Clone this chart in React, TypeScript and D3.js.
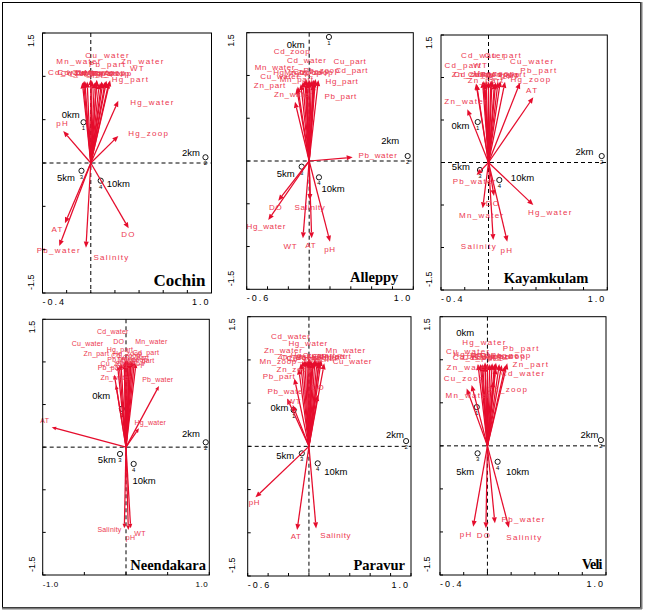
import React from "react";
import * as d3 from "d3";

// variables shown as arrows (same order in every panel)
const variables = [
  "Cd_water", "Cd_part", "Cd_zoop", "Cu_water", "Cu_part", "Cu_zoop",
  "Hg_water", "Hg_part", "Hg_zoop", "Mn_water", "Mn_part", "Mn_zoop",
  "Pb_water", "Pb_part", "Pb_zoop", "Zn_water", "Zn_part", "Zn_zoop",
  "WT", "pH", "DO", "Salinity", "AT",
];
const siteIds = ["1", "2", "3", "4"];
const siteNames = ["0km", "2km", "5km", "10km"];
const panelNames = ["Cochin", "Alleppy", "Kayamkulam", "Neendakara", "Paravur", "Veli"];
const xTickLabels = [["-0.4", "1.0"], ["-0.6", "1.0"], ["-0.4", "1.0"], ["-1.0", "1.0"], ["-0.6", "1.0"], ["-0.4", "1.0"]];
const yTickLabels = ["1.5", "-1.5"];
const xDomains = [[-0.4, 1.0], [-0.6, 1.0], [-0.4, 1.0], [-1.0, 1.0], [-0.6, 1.0], [-0.4, 1.0]];
const xSteps = [0.2, 0.2, 0.2, 0.5, 0.2, 0.2];

// Cochin
const cochinX = [-0.07, -0.05, -0.03, 0.0, 0.01, 0.03, 0.228, 0.16, 0.228, -0.06, 0.05, 0.07, -0.261, 0.05, 0.09, 0.12, 0.1, 0.13, 0.15, -0.228, 0.314, -0.04, -0.214];
const cochinY = [0.93, 0.95, 0.94, 0.97, 0.95, 0.93, 0.719, 0.955, 0.312, 0.94, 0.95, 0.92, -0.958, 0.96, 0.94, 0.94, 0.93, 0.95, 0.93, 0.369, -0.754, -0.977, -0.696];
const cochinLX = [-0.17, -0.12, -0.08, 0.14, 0.0, 0.04, 0.511, 0.329, 0.48, -0.098, 0.08, 0.12, -0.265, 0.138, 0.16, 0.431, 0.02, 0.18, 0.387, -0.233, 0.312, 0.172, -0.274];
const cochinLY = [1.04, 1.05, 1.03, 1.243, 1.04, 1.05, 0.696, 0.969, 0.335, 1.169, 1.03, 1.04, -1.012, 1.142, 1.035, 1.169, 1.03, 1.03, 1.093, 0.453, -0.823, -1.093, -0.762];
const cochinSiteX = [-0.06, 0.95, -0.077, 0.082];
const cochinSiteY = [0.47, 0.066, -0.09, -0.204];
const cochinSiteLX = [-0.167, 0.83, -0.205, 0.229];
const cochinSiteLY = [0.554, 0.123, -0.17, -0.242];

// Alleppy
const alleppyX = [0.0, 0.05, -0.03, -0.11, 0.06, -0.06, -0.393, 0.088, -0.04, -0.08, -0.02, 0.02, 0.418, 0.04, 0.04, -0.136, -0.12, 0.0, -0.06, 0.2, -0.297, 0.008, 0.024];
const alleppyY = [0.95, 0.93, 0.96, 0.87, 0.96, 0.93, -0.69, 0.947, 0.95, 0.9, 0.92, 0.94, 0.043, 0.9, 0.95, 0.693, 0.85, 0.93, -0.904, -0.943, -0.464, -0.456, -0.904];
const alleppyLX = [-0.023, 0.408, -0.165, -0.28, 0.392, 0.02, -0.412, 0.315, -0.17, -0.329, -0.12, -0.06, 0.661, 0.303, 0.12, -0.153, -0.377, 0.06, -0.18, 0.2, -0.321, 0.008, 0.016];
const alleppyLY = [1.173, 1.056, 1.278, 0.986, 1.161, 1.05, -0.768, 0.927, 1.03, 1.096, 0.947, 1.04, 0.07, 0.752, 1.06, 0.783, 0.877, 1.03, -1.002, -1.04, -0.546, -0.546, -0.99];
const alleppySiteX = [0.19, 0.946, -0.072, 0.094];
const alleppySiteY = [1.45, 0.058, -0.066, -0.191];
const alleppySiteLX = [-0.129, 0.779, -0.225, 0.229];
const alleppySiteLY = [1.364, 0.237, -0.144, -0.327];

// Kayamkulam
const kayX = [-0.02, -0.05, -0.03, 0.1, 0.03, 0.0, 0.377, 0.06, 0.265, -0.049, 0.08, 0.02, -0.1, 0.139, 0.05, -0.178, -0.105, -0.1, -0.04, 0.158, 0.046, 0.04, 0.377];
const kayY = [0.96, 0.95, 0.93, 0.96, 0.97, 0.95, -0.5, 0.94, 0.939, -0.539, 0.95, 0.96, -0.147, 0.95, 0.93, 0.626, 0.93, 0.92, 0.96, -0.931, -0.394, -0.912, 0.767];
const kayLX = [-0.044, -0.212, -0.12, 0.368, 0.125, 0.0, 0.52, 0.1, 0.358, -0.057, 0.16, 0.05, -0.116, 0.424, 0.1, -0.188, -0.021, -0.14, -0.066, 0.154, 0.038, -0.081, 0.368];
const kayLY = [1.257, 1.147, 1.04, 1.186, 1.26, 1.04, -0.586, 1.02, 0.971, -0.618, 1.03, 1.045, -0.226, 1.08, 1.04, 0.715, 0.959, 1.03, 1.147, -1.03, -0.48, -0.99, 0.845];
const kaySiteX = [-0.091, 0.953, -0.072, 0.091];
const kaySiteY = [0.476, 0.076, -0.088, -0.206];
const kaySiteLX = [-0.236, 0.808, -0.233, 0.286];
const kaySiteLY = [0.441, 0.127, -0.049, -0.174];

// Neendakara
const neeX = [-0.02, 0.1, 0.02, -0.1, 0.08, -0.08, 0.156, 0.0, 0.04, 0.06, 0.12, 0.04, 0.396, -0.14, 0.06, -0.12, -0.06, -0.02, 0.056, 0.028, 0.0, -0.02, -0.892];
const neeY = [1.0, 1.0, 1.02, 0.95, 1.0, 0.96, 0.222, 1.02, 1.0, 1.02, 0.98, 0.98, 0.718, 0.85, 0.99, 0.73, 0.98, 0.97, -0.952, -0.972, 1.03, -0.952, 0.233];
const neeLX = [-0.158, 0.24, 0.0, -0.462, 0.12, -0.13, 0.292, -0.072, 0.02, 0.304, 0.18, 0.08, 0.382, -0.184, -0.05, -0.122, -0.356, 0.05, 0.168, 0.054, -0.088, -0.198, -0.976];
const neeLY = [1.355, 1.109, 1.07, 1.219, 1.05, 0.976, 0.292, 1.149, 1.1, 1.238, 1.015, 1.03, 0.797, 0.937, 1.03, 0.82, 1.1, 0.98, -1.01, -1.061, 1.238, -0.963, 0.307];
const neeSiteX = [-0.05, 0.957, -0.072, 0.092];
const neeSiteY = [0.45, 0.057, -0.08, -0.197];
const neeSiteLX = [-0.298, 0.78, -0.23, 0.218];
const neeSiteLY = [0.601, 0.155, -0.15, -0.397];

// Paravur
const parX = [-0.04, 0.1, -0.02, 0.15, 0.06, 0.0, 0.0, 0.08, 0.02, 0.12, 0.1, -0.08, -0.214, -0.142, 0.04, -0.06, 0.03, -0.1, -0.159, -0.524, 0.086, 0.07, -0.116];
const parY = [1.0, 1.0, 0.99, 0.96, 1.01, 0.98, 1.02, 0.99, 1.0, 1.0, 0.97, 0.96, 0.555, 0.786, 0.98, 0.99, 0.97, 0.9, 0.478, -0.59, 0.594, -0.949, -0.968];
const parLX = [-0.178, 0.2, -0.1, 0.426, 0.1, -0.04, -0.008, 0.15, 0.0, 0.359, 0.25, -0.302, -0.215, -0.292, 0.05, -0.252, -0.15, -0.142, -0.142, -0.534, 0.085, 0.263, -0.125];
const parLY = [1.276, 1.04, 1.03, 0.979, 1.05, 1.02, 1.192, 1.03, 1.05, 1.106, 1.04, 0.979, 0.632, 0.813, 1.03, 1.106, 1.04, 0.891, 0.516, -0.652, 0.683, -1.034, -1.046];
const parSiteX = [-0.15, 0.952, -0.07, 0.086];
const parSiteY = [0.42, 0.061, -0.081, -0.197];
const parSiteLX = [-0.289, 0.842, -0.232, 0.263];
const parSiteLY = [0.451, 0.139, -0.109, -0.286];

// Veli
const veliX = [0.07, 0.0, -0.04, -0.08, 0.04, -0.133, -0.02, -0.06, 0.02, -0.175, 0.06, 0.1, 0.063, 0.072, 0.12, -0.049, 0.167, 0.05, -0.02, -0.12, -0.013, 0.181, 0.15];
const veliY = [0.9, 0.96, 0.95, 0.95, 0.96, 0.706, 0.97, 0.95, 0.95, 0.667, 0.95, 0.95, -0.9, 0.965, 0.94, 0.938, 0.958, 0.75, 0.93, -0.94, -0.958, -0.951, 0.93];
const veliLX = [0.302, -0.05, -0.12, -0.162, 0.05, -0.196, -0.025, -0.13, 0.0, -0.162, 0.1, 0.15, 0.306, 0.285, 0.2, -0.16, 0.367, 0.175, -0.08, -0.179, -0.028, 0.312, 0.08];
const veliLY = [0.842, 1.03, 1.03, 1.093, 1.04, 0.784, 1.197, 1.06, 1.05, 0.59, 1.04, 1.04, -0.854, 1.132, 1.045, 0.907, 0.947, 0.66, 1.045, -1.024, -1.044, -1.067, 1.03];
const veliSiteX = [-0.09, 0.957, -0.083, 0.086];
const veliSiteY = [0.45, 0.067, -0.087, -0.185];
const veliSiteLX = [-0.188, 0.86, -0.188, 0.255];
const veliSiteLY = [1.314, 0.137, -0.293, -0.293];

const panelData = [
  { x: cochinX, y: cochinY, lx: cochinLX, ly: cochinLY, sx: cochinSiteX, sy: cochinSiteY, slx: cochinSiteLX, sly: cochinSiteLY },
  { x: alleppyX, y: alleppyY, lx: alleppyLX, ly: alleppyLY, sx: alleppySiteX, sy: alleppySiteY, slx: alleppySiteLX, sly: alleppySiteLY },
  { x: kayX, y: kayY, lx: kayLX, ly: kayLY, sx: kaySiteX, sy: kaySiteY, slx: kaySiteLX, sly: kaySiteLY },
  { x: neeX, y: neeY, lx: neeLX, ly: neeLY, sx: neeSiteX, sy: neeSiteY, slx: neeSiteLX, sly: neeSiteLY },
  { x: parX, y: parY, lx: parLX, ly: parLY, sx: parSiteX, sy: parSiteY, slx: parSiteLX, sly: parSiteLY },
  { x: veliX, y: veliY, lx: veliLX, ly: veliLY, sx: veliSiteX, sy: veliSiteY, slx: veliSiteLX, sly: veliSiteLY },
];

// layout of each panel box (pixels) and per-panel text styling
const layout = [
  { left: 42.5, right: 211.5, top: 33, bottom: 293, fs: 8, ls: 1.3, head: 6, tfs: 17, tls: 0, tdx: 6, tdy: 7, yOff: 8.5, tickFs: 9, tickLs: 2 },
  { left: 246.7, right: 413.3, top: 32.7, bottom: 289.3, fs: 8, ls: 0.65, head: 6, tfs: 14.5, tls: 0, tdx: 15, tdy: 7.5, yOff: 13, tickFs: 9, tickLs: 2 },
  { left: 441, right: 607.3, top: 35, bottom: 290, fs: 8, ls: 1.3, head: 6, tfs: 14.5, tls: 0, tdx: 19, tdy: 6.7, yOff: 9.5, tickFs: 9, tickLs: 2 },
  { left: 42.7, right: 209.3, top: 319.3, bottom: 575, fs: 7, ls: 0.2, head: 4.5, tfs: 14.5, tls: 0, tdx: 3.3, tdy: 5, yOff: 8, tickFs: 8, tickLs: 0.6 },
  { left: 247.7, right: 411, top: 316.7, bottom: 576, fs: 8, ls: 0.65, head: 6, tfs: 14.5, tls: 0, tdx: 6, tdy: 6, yOff: 12.7, tickFs: 9, tickLs: 2 },
  { left: 440, right: 606, top: 316.7, bottom: 575, fs: 8, ls: 1.3, head: 6, tfs: 14, tls: -0.8, tdx: 4.3, tdy: 5.7, yOff: 10, tickFs: 9, tickLs: 2 },
];

const ARROW = "#e50c2c";
const LABEL = "#ec3850";
const SANS = "'Liberation Sans', Arial, sans-serif";
const SERIF = "'Liberation Serif', 'Times New Roman', serif";

function Panel({ idx }: { idx: number }) {
  const p = layout[idx];
  const d = panelData[idx];
  const dom = xDomains[idx];
  const x = d3.scaleLinear().domain(dom).range([p.left, p.right]);
  const y = d3.scaleLinear().domain([-1.5, 1.5]).range([p.bottom, p.top]);
  const x0 = x(0);
  const y0 = y(0);
  const xTicks = d3.range(dom[0], dom[1] + 1e-6, xSteps[idx]);
  const yTicks = d3.range(-1.5, 1.5 + 1e-6, 0.5);

  const arrows = variables.map((name, i) => {
    const tx = x(d.x[i]);
    const ty = y(d.y[i]);
    const a = Math.atan2(ty - y0, tx - x0);
    const L = p.head;
    const W = p.head * 0.42;
    const bx = tx - L * Math.cos(a);
    const by = ty - L * Math.sin(a);
    const pts = `${tx},${ty} ${bx - W * Math.sin(a)},${by + W * Math.cos(a)} ${bx + W * Math.sin(a)},${by - W * Math.cos(a)}`;
    return (
      <g key={name}>
        <line x1={x0} y1={y0} x2={bx} y2={by} stroke={ARROW} strokeWidth={1.25} />
        <polygon points={pts} fill={ARROW} />
      </g>
    );
  });

  return (
    <g>
      {/* dashed zero lines */}
      <line x1={p.left} x2={p.right} y1={y0} y2={y0} stroke="#000" strokeDasharray="4,3" />
      <line x1={x0} x2={x0} y1={p.top} y2={p.bottom} stroke="#000" strokeDasharray="4,3" />

      {/* sites */}
      {siteIds.map((s, i) => (
        <g key={"s" + s}>
          <circle cx={x(d.sx[i])} cy={y(d.sy[i])} r={2.6} fill="#fff" stroke="#000" strokeWidth={0.9} />
          <text x={x(d.sx[i])} y={y(d.sy[i]) + 6} fontSize={6} fontFamily={SANS} textAnchor="middle" dominantBaseline="central" fill="#000">{s}</text>
        </g>
      ))}

      {arrows}

      {variables.map((name, i) => (
        <text key={"l" + name} x={x(d.lx[i])} y={y(d.ly[i])} fontSize={p.fs} letterSpacing={p.ls}
          fontFamily={SANS} textAnchor="middle" dominantBaseline="central" fill={LABEL}>{name}</text>
      ))}

      {siteNames.map((s, i) => (
        <text key={"n" + s} x={x(d.slx[i])} y={y(d.sly[i])} fontSize={9.5} fontFamily={SANS}
          textAnchor="middle" dominantBaseline="central" fill="#000">{s}</text>
      ))}

      {/* frame and ticks */}
      <rect x={p.left} y={p.top} width={p.right - p.left} height={p.bottom - p.top} fill="none" stroke="#000" strokeWidth={1} />
      {yTicks.map((t) => (
        <line key={"yt" + t} x1={p.left} x2={p.left + 3} y1={y(t)} y2={y(t)} stroke="#000" />
      ))}
      {xTicks.map((t) => (
        <line key={"xt" + t} x1={x(t)} x2={x(t)} y1={p.bottom} y2={p.bottom - 3} stroke="#000" />
      ))}
      <text x={p.left} y={p.bottom + 12} fontSize={p.tickFs} letterSpacing={p.tickLs} fontFamily={SANS} fill="#000">{xTickLabels[idx][0]}</text>
      <text x={p.right - 1} y={p.bottom + 12} fontSize={p.tickFs} letterSpacing={p.tickLs} fontFamily={SANS} textAnchor="end" fill="#000">{xTickLabels[idx][1]}</text>
      <text transform={`translate(${p.left - p.yOff},${p.top + 1.5}) rotate(-90)`} fontSize={9} fontFamily={SANS} textAnchor="end" fill="#000">{yTickLabels[0]}</text>
      <text transform={`translate(${p.left - p.yOff},${p.bottom - 3}) rotate(-90)`} fontSize={9} fontFamily={SANS} textAnchor="start" fill="#000">{yTickLabels[1]}</text>

      <text x={p.right - p.tdx} y={p.bottom - p.tdy} fontSize={p.tfs} letterSpacing={p.tls} fontFamily={SERIF}
        fontWeight="bold" textAnchor="end" fill="#000">{panelNames[idx]}</text>
    </g>
  );
}

export default function App() {
  return (
    <div style={{ position: "absolute", left: 0, top: 0 }}>
      <svg width={645} height={612} style={{ display: "block", background: "#fff" }}>
        <rect x={0} y={0} width={645} height={612} fill="#fff" />
        <rect x={2.5} y={2.5} width={638} height={605} fill="none" stroke="#000" strokeWidth={1} />
        <line x1={641.5} x2={641.5} y1={2} y2={609} stroke="#7a7a7a" strokeWidth={2} />
        <line x1={2} x2={642} y1={608.5} y2={608.5} stroke="#7a7a7a" strokeWidth={2} />
        {panelNames.map((n, i) => (
          <Panel key={n} idx={i} />
        ))}
      </svg>
    </div>
  );
}
